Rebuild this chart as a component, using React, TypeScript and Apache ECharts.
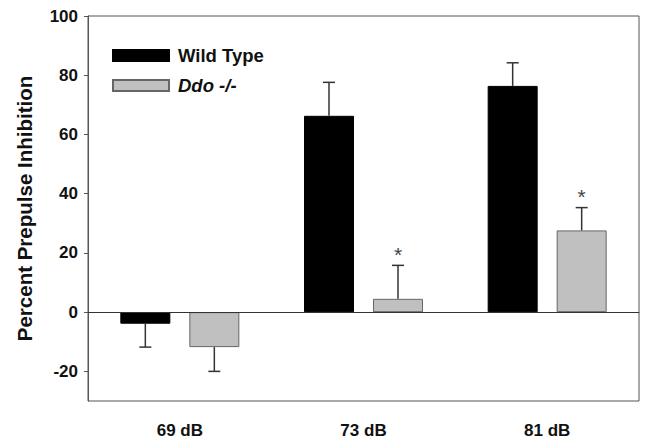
import React, { useEffect, useRef } from "react";
import * as echarts from "echarts";

const categories = ["69 dB", "73 dB", "81 dB"];
const wildType = [-3.9, 66.3, 76.4];
const wildTypeErr = [7.9, 11.3, 7.8];
const ddo = [-11.8, 4.5, 27.6];
const ddoErr = [8.2, 11.3, 7.7];
const ddoSignificant = [0, 1, 1];
const yTicks = [-20, 0, 20, 40, 60, 80, 100];

const OFFSET = 34.5;

function errRender(offset: number) {
  return (params: any, api: any) => {
    const idx = api.value(0);
    const v = api.value(1);
    const e = api.value(2);
    const sig = api.value(3);
    const dir = v >= 0 ? 1 : -1;
    const base = api.coord([idx, v]);
    const end = api.coord([idx, v + dir * e]);
    const x = base[0] + offset;
    const style = { stroke: "#333", lineWidth: 1.5 };
    const children: any[] = [
      { type: "line", shape: { x1: x, y1: base[1], x2: x, y2: end[1] }, style },
      { type: "line", shape: { x1: x - 6, y1: end[1], x2: x + 6, y2: end[1] }, style },
    ];
    if (sig) {
      children.push({
        type: "text",
        x: x,
        y: end[1] - 11,
        style: {
          text: "*",
          fill: "#444",
          fontSize: 21,
          fontFamily: "Liberation Sans, Arial, sans-serif",
          align: "center",
          verticalAlign: "middle",
        },
      });
    }
    return { type: "group", children };
  };
}

export default function App() {
  const ref = useRef<HTMLDivElement>(null);
  useEffect(() => {
    if (!ref.current) return;
    const chart = echarts.init(ref.current, null, { renderer: "svg" });
    const font = "Liberation Sans, Arial, sans-serif";
    chart.setOption({
      animation: false,
      backgroundColor: "#fff",
      textStyle: { fontFamily: font },
      grid: {
        left: 88,
        top: 16,
        right: 7,
        bottom: 38,
        show: true,
        borderColor: "#555",
        borderWidth: 1,
      },
      legend: {
        orient: "vertical",
        left: 107,
        top: 41,
        icon: "rect",
        itemWidth: 56,
        itemHeight: 11,
        itemGap: 11,
        data: ["Wild Type", "Ddo -/-"],
        formatter: (name: string) =>
          name === "Ddo -/-" ? `{i|${name}}` : `{b|${name}}`,
        textStyle: {
          padding: [0, 0, 0, 4],
          rich: {
            b: { fontSize: 18.5, fontWeight: "bold", color: "#111", fontFamily: font, lineHeight: 18 },
            i: { fontSize: 18.5, fontWeight: "bold", fontStyle: "italic", color: "#111", fontFamily: font, lineHeight: 18 },
          },
        },
      },
      xAxis: {
        type: "category",
        data: categories,
        axisLine: { lineStyle: { color: "#555", width: 1 } },
        axisTick: { alignWithLabel: true, length: 4, lineStyle: { color: "#555" } },
        axisLabel: {
          fontSize: 17,
          fontWeight: "bold",
          color: "#111",
          margin: 21,
          fontFamily: font,
        },
      },
      yAxis: {
        type: "value",
        min: -30,
        max: 100,
        interval: 10,
        name: "Percent Prepulse Inhibition",
        nameLocation: "middle",
        nameGap: 53,
        nameTextStyle: { fontSize: 20.5, fontWeight: "bold", color: "#111", fontFamily: font },
        splitLine: { show: false },
        axisLine: { show: true, lineStyle: { color: "#555", width: 1 } },
        axisTick: { show: true, length: 4, customValues: yTicks, lineStyle: { color: "#555" } },
        axisLabel: {
          customValues: yTicks,
          fontSize: 17,
          fontWeight: "bold",
          color: "#111",
          margin: 10,
          fontFamily: font,
        },
      },
      series: [
        {
          name: "Wild Type",
          type: "bar",
          data: wildType,
          barWidth: 50,
          barGap: "38%",
          itemStyle: { color: "#000", borderColor: "#000", borderWidth: 1 },
          markLine: {
            silent: true,
            symbol: "none",
            label: { show: false },
            lineStyle: { color: "#333", width: 1, type: "solid" },
            data: [{ yAxis: 0 }],
          },
        },
        {
          name: "Ddo -/-",
          type: "bar",
          data: ddo,
          barWidth: 50,
          itemStyle: { color: "#c0c0c0", borderColor: "#666", borderWidth: 1 },
        },
        {
          name: "wtErr",
          type: "custom",
          renderItem: errRender(-OFFSET),
          encode: { x: 0, y: 1 },
          data: wildType.map((v, i) => [i, v, wildTypeErr[i], 0]),
          z: 3,
        },
        {
          name: "ddoErr",
          type: "custom",
          renderItem: errRender(OFFSET),
          encode: { x: 0, y: 1 },
          data: ddo.map((v, i) => [i, v, ddoErr[i], ddoSignificant[i]]),
          z: 3,
        },
      ],
    });
    return () => chart.dispose();
  }, []);
  return (
    <div
      ref={ref}
      style={{ position: "fixed", left: 0, top: 0, width: 646, height: 439, background: "#fff" }}
    />
  );
}
